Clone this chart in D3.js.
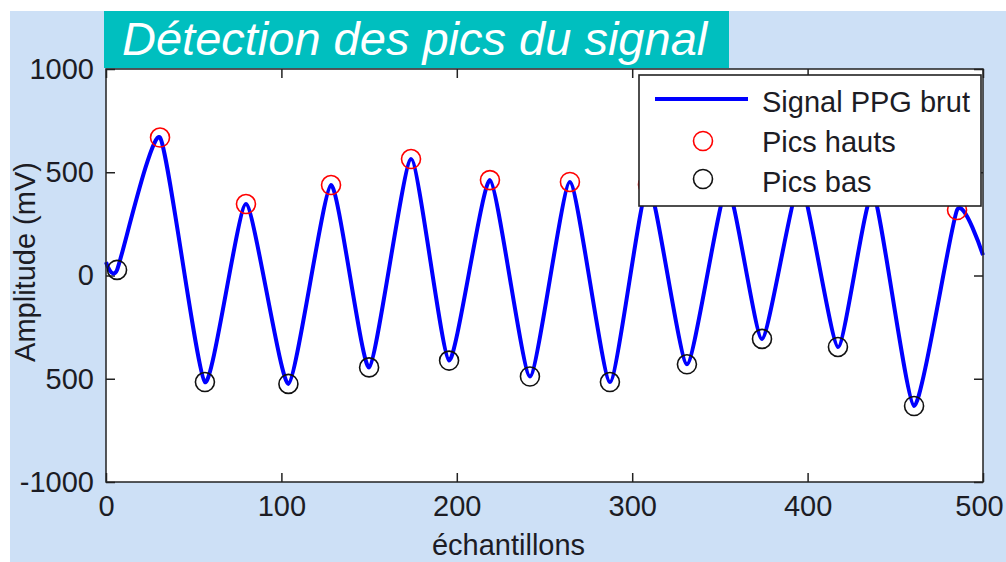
<!DOCTYPE html>
<html>
<head>
<meta charset="utf-8">
<script src="https://cdnjs.cloudflare.com/ajax/libs/d3/7.8.5/d3.min.js"></script>
<style>
  body { margin: 0; background: #fff; }
  svg text { font-family: "Liberation Sans", Arial, sans-serif; }
</style>
</head>
<body>
<svg id="chart" width="1006" height="562"></svg>
<script>
// points clés du signal (échantillon, amplitude)
const signalX = [0, 6.3, 30.8, 56.4, 79.8, 104, 128.3, 150, 173.9, 195.6, 218.9, 241.7, 264.5, 287.3, 309, 331.2, 354, 374, 395.7, 417.3, 437.3, 460.7, 485.2, 500]
const signalY = [65, 27, 668, -516, 346, -525, 438, -445, 564, -412, 462, -489, 453, -516, 440, -430, 430, -307, 450, -346, 400, -632, 317, 99]

// pics hauts (cercles rouges)
const hautsX = [30.8, 79.8, 128.3, 173.9, 218.9, 264.5, 309, 354, 395.7, 437.3, 485.2]
const hautsY = [668, 346, 438, 564, 462, 453, 440, 430, 450, 400, 317]

// pics bas (cercles noirs)
const basX = [6.3, 56.4, 104, 150, 195.6, 241.7, 287.3, 331.2, 374, 417.3, 460.7]
const basY = [27, -516, -525, -445, -412, -489, -516, -430, -307, -346, -632]

const xTicks = [0, 100, 200, 300, 400, 500]
const yTicks = [1000, 500, 0, -500, -1000]
const yTickLabels = ['1000', '500', '0', '500', '-1000']

const titre = 'Détection des pics du signal'
const xLabel = 'échantillons'
const yLabel = 'Amplitude (mV)'
const legendLabels = ['Signal PPG brut', 'Pics hauts', 'Pics bas']

const W = 1006, H = 562
const plot = { left: 106, right: 983, top: 69, bottom: 482 }
const textColor = '#1c1c24'

const svg = d3.select('#chart')

// fond bleu clair
svg.append('rect')
  .attr('x', 10).attr('y', 11)
  .attr('width', W - 10).attr('height', H - 11)
  .attr('fill', '#cde0f6')

const x = d3.scaleLinear().domain([0, 500]).range([plot.left, plot.right])
const y = d3.scaleLinear().domain([-1000, 1000]).range([plot.bottom, plot.top])

svg.append('rect')
  .attr('x', plot.left).attr('y', plot.top)
  .attr('width', plot.right - plot.left).attr('height', plot.bottom - plot.top)
  .attr('fill', '#fff')

// axes (ticks vers l'intérieur, style matlab)
const tickLen = 9
const gx = svg.append('g')
  .attr('transform', `translate(0,${plot.bottom})`)
  .call(d3.axisBottom(x).tickValues(xTicks).tickSizeInner(-tickLen).tickSizeOuter(0).tickPadding(13))
const gy = svg.append('g')
  .attr('transform', `translate(${plot.left},0)`)
  .call(d3.axisLeft(y).tickValues(yTicks).tickFormat((d, i) => yTickLabels[i]).tickSizeInner(-tickLen).tickSizeOuter(0).tickPadding(12))
const gxTop = svg.append('g')
  .attr('transform', `translate(0,${plot.top})`)
  .call(d3.axisTop(x).tickValues(xTicks).tickSizeInner(-tickLen).tickSizeOuter(0).tickFormat(''))
const gyRight = svg.append('g')
  .attr('transform', `translate(${plot.right},0)`)
  .call(d3.axisRight(y).tickValues(yTicks).tickSizeInner(-tickLen).tickSizeOuter(0).tickFormat(''))

;[gx, gy, gxTop, gyRight].forEach(g => {
  g.select('.domain').remove()
  g.selectAll('.tick line').attr('stroke', '#222').attr('stroke-width', 1.5)
  g.selectAll('.tick text').attr('fill', textColor).style('font-size', '29px')
})
// le dernier label colle au bord droit
gx.selectAll('.tick text').filter(d => d === 500).attr('dx', -4)

// signal
const line = d3.line()
  .x((d, i) => x(signalX[i]))
  .y(d => y(d))
  .curve(d3.curveCardinal.tension(0.45))

svg.append('path')
  .attr('d', line(signalY))
  .attr('fill', 'none')
  .attr('stroke', '#0000ff')
  .attr('stroke-width', 4)
  .attr('stroke-linejoin', 'round')

svg.append('g').selectAll('circle')
  .data(hautsY)
  .join('circle')
  .attr('cx', (d, i) => x(hautsX[i]))
  .attr('cy', d => y(d))
  .attr('r', 9.5)
  .attr('fill', 'none')
  .attr('stroke', '#ff0000')
  .attr('stroke-width', 1.6)

svg.append('g').selectAll('circle')
  .data(basY)
  .join('circle')
  .attr('cx', (d, i) => x(basX[i]))
  .attr('cy', d => y(d))
  .attr('r', 9.5)
  .attr('fill', 'none')
  .attr('stroke', '#111')
  .attr('stroke-width', 1.6)

// cadre
svg.append('rect')
  .attr('x', plot.left).attr('y', plot.top)
  .attr('width', plot.right - plot.left).attr('height', plot.bottom - plot.top)
  .attr('fill', 'none')
  .attr('stroke', '#222')
  .attr('stroke-width', 1.5)

// légende
const leg = svg.append('g').attr('transform', 'translate(639,75)')
leg.append('rect')
  .attr('width', 342).attr('height', 131)
  .attr('fill', '#fff')
  .attr('stroke', '#222')
  .attr('stroke-width', 1.6)
leg.append('line')
  .attr('x1', 16).attr('x2', 109)
  .attr('y1', 24).attr('y2', 24)
  .attr('stroke', '#0000ff').attr('stroke-width', 4)
leg.append('circle')
  .attr('cx', 64).attr('cy', 66).attr('r', 9.5)
  .attr('fill', 'none').attr('stroke', '#ff0000').attr('stroke-width', 1.6)
leg.append('circle')
  .attr('cx', 64).attr('cy', 104).attr('r', 9.5)
  .attr('fill', 'none').attr('stroke', '#111').attr('stroke-width', 1.6)
leg.selectAll('text')
  .data(legendLabels)
  .join('text')
  .attr('x', 123)
  .attr('y', (d, i) => 27 + i * 40)
  .attr('dy', '0.35em')
  .attr('fill', textColor)
  .style('font-size', '29px')
  .text(d => d)

// titre des axes
svg.append('text')
  .attr('x', (plot.left + plot.right) / 2 - 36)
  .attr('y', 555)
  .attr('text-anchor', 'middle')
  .attr('fill', textColor)
  .style('font-size', '29px')
  .text(xLabel)

svg.append('text')
  .attr('transform', `translate(35,262) rotate(-90)`)
  .attr('text-anchor', 'middle')
  .attr('fill', textColor)
  .style('font-size', '29px')
  .text(yLabel)

// bandeau du titre
svg.append('rect')
  .attr('x', 104).attr('y', 11)
  .attr('width', 625).attr('height', 57)
  .attr('fill', '#00bfbf')
svg.append('text')
  .attr('x', 122).attr('y', 55)
  .attr('fill', '#fff')
  .style('font-size', '47px')
  .style('font-style', 'italic')
  .text(titre)
</script>
</body>
</html>
